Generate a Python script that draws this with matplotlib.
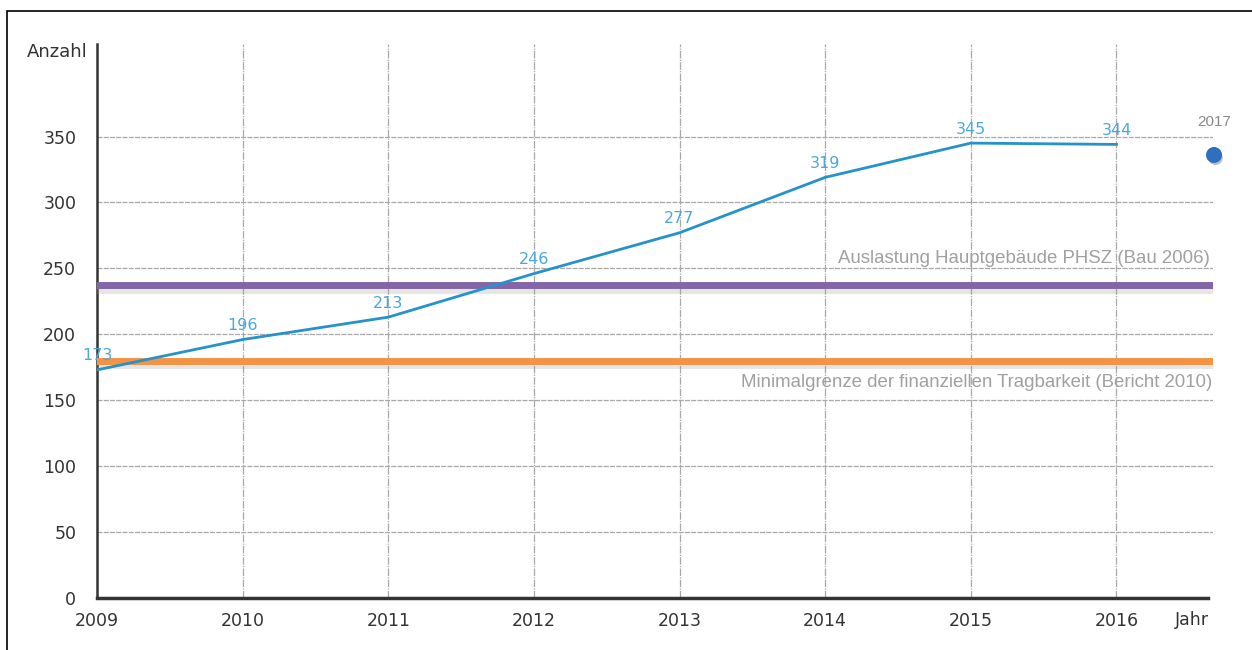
import matplotlib.pyplot as plt
import matplotlib.patheffects as pe
from matplotlib.patches import Rectangle

# Daten
jahre = [2009, 2010, 2011, 2012, 2013, 2014, 2015, 2016]
anzahl = [173, 196, 213, 246, 277, 319, 345, 344]
auslastung = 237
minimalgrenze = 180
prognose_2017 = 336

fig = plt.figure(figsize=(12.52, 6.5), dpi=100)
ax = fig.add_axes([0.0775, 0.08, 0.891, 0.852])

ax.set_xlim(2009, 2016.66)
ax.set_ylim(0, 420)

# Gitter
for y in range(50, 400, 50):
    ax.axhline(y, color='#a8a8a8', lw=0.9, ls=(0, (4, 1)), zorder=1)
for x in jahre[1:]:
    ax.axvline(x, color='#a8a8a8', lw=0.9, ls=(0, (6, 1, 1, 1)), zorder=1)

# Grenzlinien mit Schatten
schatten = [pe.SimpleLineShadow(offset=(0, -3), shadow_color='#999999', alpha=0.25), pe.Normal()]
ax.axhline(auslastung, color='#8466a8', lw=5, zorder=3, path_effects=schatten)
ax.axhline(minimalgrenze, color='#f39445', lw=5, zorder=3, path_effects=schatten)

ax.text(2016.64, auslastung + 14, 'Auslastung Hauptgebäude PHSZ (Bau 2006)',
        ha='right', va='bottom', color='#a0a0a0', fontsize=13.4, family='Liberation Sans')
ax.text(2016.66, minimalgrenze - 10, 'Minimalgrenze der finanziellen Tragbarkeit (Bericht 2010)',
        ha='right', va='top', color='#a0a0a0', fontsize=13.4, family='Liberation Sans')

# Verlauf
ax.plot(jahre, anzahl, color='#2592ca', lw=2, zorder=4)
for x, y in zip(jahre, anzahl):
    ax.text(x, y + 5, str(y), ha='center', va='bottom', color='#4aa8dc', fontsize=11.5, zorder=5)

# Punkt 2017
ax.scatter([2016.67], [prognose_2017], s=110, color='#2f6fc0', zorder=5, clip_on=False,
           path_effects=[pe.SimplePatchShadow(offset=(1, -2), alpha=0.3), pe.Normal()])
ax.text(2016.67, prognose_2017 + 20, '2017', ha='center', va='bottom', color='#8a8a8a',
        fontsize=11, family='Liberation Sans', clip_on=False)

# Achsen
for s in ['top', 'right']:
    ax.spines[s].set_visible(False)
ax.spines['left'].set_color('#333333')
ax.spines['bottom'].set_color('#333333')
ax.spines['left'].set_linewidth(1.8)
ax.spines['bottom'].set_linewidth(2.5)
ax.spines['bottom'].set_bounds(2009, 2016.63)

ax.set_xticks(jahre)
ax.set_yticks(range(0, 400, 50))
ax.tick_params(length=0, labelsize=12.5, colors='#333333', pad=10)
ax.tick_params(axis='y', pad=15)

ax.text(-0.008, 0.986, 'Anzahl', transform=ax.transAxes, ha='right', va='center', fontsize=13, color='#333333')
ax.text(0.997, -0.04, 'Jahr', transform=ax.transAxes, ha='right', va='center', fontsize=12.5, color='#333333')

# Rahmen
fig.add_artist(Rectangle((7 / 1252, -0.1), 1.2, 1 - 11 / 650 + 0.1, transform=fig.transFigure,
                         fill=False, edgecolor='black', lw=1.2))

fig.savefig('out.png', dpi=100)
